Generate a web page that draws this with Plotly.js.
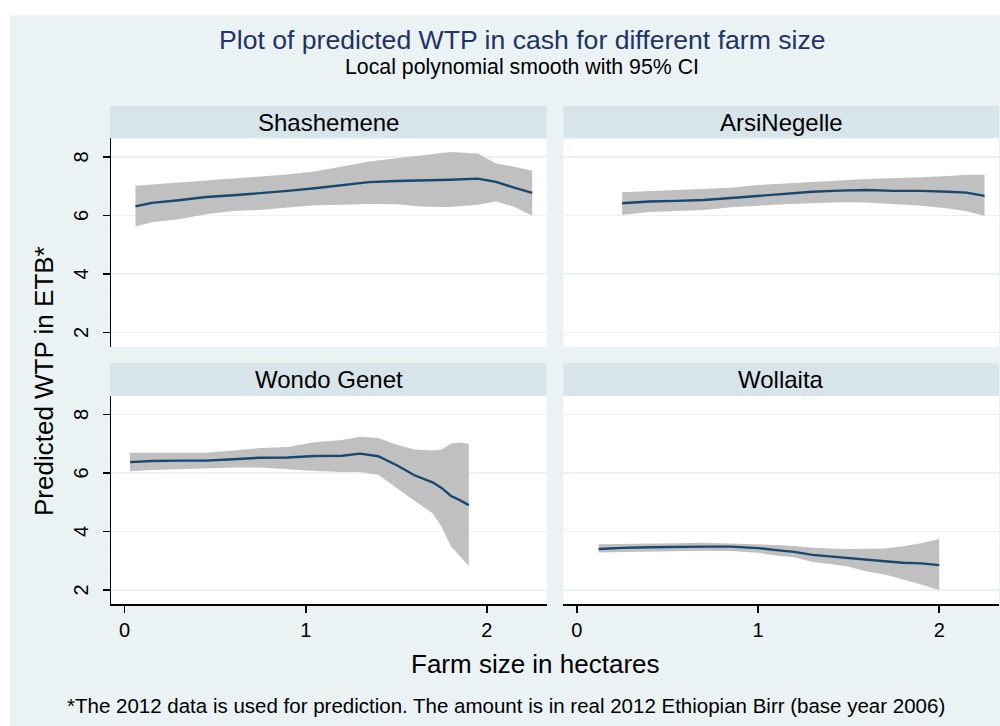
<!DOCTYPE html>
<html><head><meta charset="utf-8">
<script src="https://cdn.plot.ly/plotly-3.0.1.min.js"></script>
<style>html,body{margin:0;padding:0;background:#fff}</style>
</head><body><div id="chart" style="width:1000px;height:726px"></div>
<script>
// ---- data ----
const panelNames = ["Shashemene", "ArsiNegelle", "Wondo Genet", "Wollaita"];

const shashX     = [0.06,0.15,0.3,0.45,0.6,0.75,0.9,1.05,1.2,1.35,1.5,1.65,1.8,1.95,2.05,2.15,2.25];
const shashFit   = [6.31,6.43,6.52,6.63,6.69,6.76,6.84,6.93,7.04,7.14,7.18,7.19,7.22,7.26,7.15,6.95,6.77];
const shashUpper = [7.02,7.06,7.12,7.19,7.25,7.31,7.40,7.50,7.68,7.85,7.96,8.06,8.17,8.12,7.78,7.67,7.53];
const shashLower = [5.62,5.77,5.87,6.04,6.15,6.19,6.27,6.35,6.37,6.39,6.38,6.30,6.29,6.37,6.48,6.30,5.99];

const arsiX     = [0.25,0.4,0.55,0.7,0.85,1.0,1.15,1.3,1.45,1.6,1.75,1.9,2.05,2.15,2.25];
const arsiFit   = [6.42,6.48,6.50,6.53,6.60,6.67,6.75,6.81,6.85,6.87,6.84,6.84,6.81,6.78,6.67];
const arsiUpper = [6.79,6.83,6.87,6.89,6.95,7.04,7.10,7.15,7.20,7.25,7.27,7.31,7.35,7.39,7.39];
const arsiLower = [6.02,6.12,6.16,6.19,6.28,6.33,6.38,6.42,6.45,6.44,6.38,6.33,6.24,6.14,5.99];

const wondoX     = [0.03,0.15,0.3,0.45,0.6,0.75,0.9,1.05,1.2,1.3,1.4,1.5,1.6,1.7,1.75,1.8,1.85,1.9];
const wondoFit   = [6.37,6.41,6.42,6.42,6.47,6.52,6.53,6.58,6.59,6.66,6.57,6.27,5.92,5.68,5.49,5.22,5.07,4.90];
const wondoUpper = [6.69,6.69,6.69,6.69,6.77,6.85,6.89,7.05,7.13,7.24,7.19,6.97,6.80,6.77,6.80,7.00,7.04,7.00];
const wondoLower = [6.06,6.10,6.13,6.15,6.19,6.19,6.13,6.07,6.03,6.03,5.94,5.48,5.05,4.62,4.16,3.50,3.17,2.82];

const wollX     = [0.12,0.25,0.4,0.55,0.7,0.85,1.0,1.1,1.2,1.3,1.4,1.5,1.6,1.7,1.8,1.9,2.0];
const wollFit   = [3.40,3.44,3.46,3.48,3.48,3.48,3.43,3.36,3.30,3.20,3.14,3.10,3.02,2.98,2.93,2.91,2.85];
const wollUpper = [3.56,3.58,3.59,3.60,3.61,3.59,3.57,3.54,3.50,3.44,3.42,3.40,3.41,3.42,3.49,3.60,3.74];
const wollLower = [3.28,3.31,3.32,3.33,3.34,3.33,3.27,3.18,3.12,2.96,2.89,2.79,2.63,2.53,2.37,2.19,2.00];

const yTicks = [2, 4, 6, 8];
const xTicks = [0, 1, 2];

const titleText = "Plot of predicted WTP in cash for different farm size";
const subtitleText = "Local polynomial smooth with 95% CI";
const xTitleText = "Farm size in hectares";
const yTitleText = "Predicted WTP in ETB*";
const noteText = "*The 2012 data is used for prediction. The amount is in real 2012 Ethiopian Birr (base year 2006)";

// ---- build ----
const panels = [
  {x: shashX, fit: shashFit, up: shashUpper, lo: shashLower},
  {x: arsiX,  fit: arsiFit,  up: arsiUpper,  lo: arsiLower},
  {x: wondoX, fit: wondoFit, up: wondoUpper, lo: wondoLower},
  {x: wollX,  fit: wollFit,  up: wollUpper,  lo: wollLower}
];

const FONT = '"Liberation Sans", Arial, Helvetica, sans-serif';
const traces = [];
panels.forEach((p, i) => {
  const ax = i === 0 ? '' : String(i + 1);
  traces.push({
    type: 'scatter', mode: 'lines',
    x: p.x.concat(p.x.slice().reverse()),
    y: p.up.concat(p.lo.slice().reverse()),
    fill: 'toself', fillcolor: '#c0c0c0',
    line: {width: 0, color: '#c0c0c0'},
    xaxis: 'x' + ax, yaxis: 'y' + ax, hoverinfo: 'skip', showlegend: false
  });
  traces.push({
    type: 'scatter', mode: 'lines',
    x: p.x, y: p.fit,
    line: {color: '#1a476f', width: 2.4},
    xaxis: 'x' + ax, yaxis: 'y' + ax, showlegend: false
  });
});

const W = 1000, H = 726;
const px = v => v / W, py = v => 1 - v / H;
const colDom = [[px(111), px(546.7)], [px(563.3), px(999)]];
const rowDom = [[py(346.7), py(138.3)], [py(604.3), py(395.7)]];
const xRange = [-0.075, 2.33];
const yRange = [1.51, 8.64];

const layout = {
  width: W, height: H,
  margin: {l: 0, r: 0, t: 0, b: 0},
  paper_bgcolor: '#eaf2f3',
  plot_bgcolor: '#ffffff',
  font: {family: FONT, color: '#000'},
  showlegend: false,
  shapes: [],
  annotations: []
};

for (let i = 0; i < 4; i++) {
  const ax = i === 0 ? '' : String(i + 1);
  const col = i % 2, row = Math.floor(i / 2);
  const isLeft = col === 0, isBottom = row === 1;
  layout['xaxis' + ax] = {
    domain: colDom[col], range: xRange, anchor: 'y' + ax,
    showgrid: false, zeroline: false,
    showline: isBottom, linecolor: '#000', linewidth: 1.5,
    ticks: isBottom ? 'outside' : '', ticklen: 7, tickwidth: 1.5, tickcolor: '#000',
    tickvals: xTicks, showticklabels: isBottom,
    tickfont: {size: 20, color: '#000'}
  };
  layout['yaxis' + ax] = {
    domain: rowDom[row], range: yRange, anchor: 'x' + ax,
    showgrid: true, gridcolor: '#eaf2f3', gridwidth: 1.5, zeroline: false,
    showline: isLeft, linecolor: '#000', linewidth: 1.5,
    ticks: isLeft ? 'outside' : '', ticklen: 7, tickwidth: 1.5, tickcolor: '#000',
    tickvals: yTicks, showticklabels: isLeft, tickangle: -90,
    ticklabelposition: 'outside', ticklabelstandoff: 7, ticklabelshift: 3,
    tickfont: {size: 20, color: '#000'}
  };
  // strip header
  const stripTop = row === 0 ? 106 : 363.3;
  const stripBot = row === 0 ? 138.3 : 395.7;
  layout.shapes.push({
    type: 'rect', xref: 'paper', yref: 'paper',
    x0: colDom[col][0] - (isLeft ? 0.001 : 0), x1: colDom[col][1], y0: py(stripBot), y1: py(stripTop),
    fillcolor: '#d7e4ea', line: {width: 0}, layer: 'below'
  });
  layout.annotations.push({
    xref: 'paper', yref: 'paper', x: (colDom[col][0] + colDom[col][1]) / 2,
    y: py((stripTop + stripBot) / 2), xanchor: 'center', yanchor: 'middle',
    text: panelNames[i], showarrow: false, font: {size: 24, color: '#000'}
  });
}

// white outer margins (top and left)
layout.shapes.push({type: 'rect', xref: 'paper', yref: 'paper', x0: 0, x1: 1, y0: py(15), y1: 1, fillcolor: '#ffffff', line: {width: 0}, layer: 'below'});
layout.shapes.push({type: 'rect', xref: 'paper', yref: 'paper', x0: 0, x1: px(10), y0: 0, y1: 1, fillcolor: '#ffffff', line: {width: 0}, layer: 'below'});

layout.annotations.push(
  {xref: 'paper', yref: 'paper', x: px(522.5), y: py(40), xanchor: 'center', yanchor: 'middle',
   text: titleText, showarrow: false, font: {size: 26.6, color: '#1f3366'}},
  {xref: 'paper', yref: 'paper', x: px(522), y: py(67), xanchor: 'center', yanchor: 'middle',
   text: subtitleText, showarrow: false, font: {size: 21.3, color: '#000'}},
  {xref: 'paper', yref: 'paper', x: px(535.7), y: py(664), xanchor: 'center', yanchor: 'middle',
   text: xTitleText, showarrow: false, font: {size: 26, color: '#000'}},
  {xref: 'paper', yref: 'paper', x: px(44), y: py(381), xanchor: 'center', yanchor: 'middle',
   text: yTitleText, textangle: -90, showarrow: false, font: {size: 26, color: '#000'}},
  {xref: 'paper', yref: 'paper', x: px(506), y: py(705), xanchor: 'center', yanchor: 'middle',
   text: noteText, showarrow: false, font: {size: 20.5, color: '#000'}}
);

Plotly.newPlot('chart', traces, layout, {displayModeBar: false, staticPlot: true});
</script>
</body></html>
